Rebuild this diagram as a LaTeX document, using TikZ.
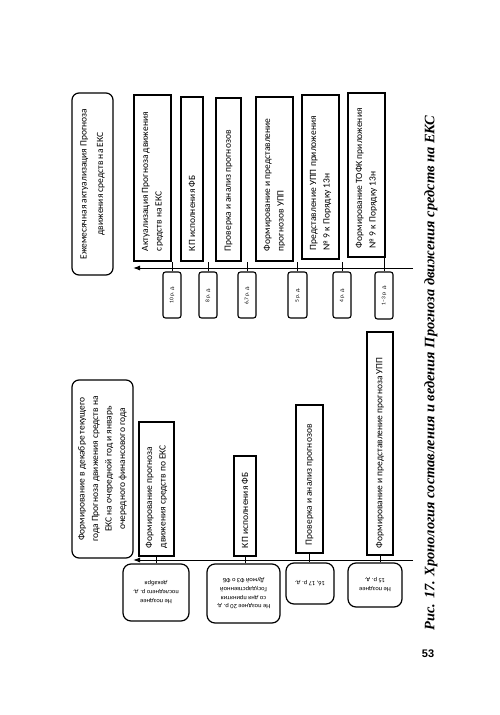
\documentclass[tikz,border=0pt]{standalone}
\usepackage{fontspec}
\usepackage{graphicx}
\setmainfont{Carlito}
\newfontfamily\capfont{Liberation Serif}
\newfontfamily\numfont{Liberation Sans}
\usetikzlibrary{arrows.meta}
\newcommand\mkbox[8][]{%
  \pgfmathsetmacro\bw{#5-#3}\pgfmathsetmacro\bh{#6-#4}\pgfmathsetmacro\tw{#6-#4-2*#7}%
  \node[#1, minimum width=\bw pt, minimum height=\bh pt] (#2) at ({(#3+#5)/2},{(#4+#6)/2})
    {\rotatebox{90}{\parbox{\tw pt}{\fontsize{9.5}{13.5}\selectfont\raggedright #8}}};}
\newcommand\mkround[7][]{%
  \pgfmathsetmacro\bw{#5-#3}\pgfmathsetmacro\bh{#6-#4}\pgfmathsetmacro\tw{#6-#4-12}%
  \node[#1, minimum width=\bw pt, minimum height=\bh pt] (#2) at ({(#3+#5)/2},{(#4+#6)/2})
    {\rotatebox{90}{\parbox{\tw pt}{\centering #7}}};}
\newcommand\mkdate[7][]{%
  \pgfmathsetmacro\bw{#5-#3}\pgfmathsetmacro\bh{#6-#4}%
  \node[#1, minimum width=\bw pt, minimum height=\bh pt] (#2) at ({(#3+#5)/2},{(#4+#6)/2}) {#7};}
\begin{document}
\begin{tikzpicture}[x=1pt,y=-1pt,
  rbox/.style={draw, line width=1.1pt, inner sep=1pt},
  bigbox/.style={draw, line width=1.2pt, rounded corners=7pt, inner sep=1pt},
  tdate/.style={draw, line width=1.1pt, rounded corners=2.5pt, inner sep=0pt},
  bdate/.style={draw, line width=1.2pt, rounded corners=8pt, inner sep=0pt},
  axis/.style={line width=1pt, -{Latex[length=7pt,width=5pt]}},
  tick/.style={line width=0.5pt}]
\useasboundingbox[fill=white] (0,0) rectangle (500,715);

% ---------- upper diagram ----------
\mkround[bigbox]{tb}{72}{93}{113}{275}{\fontsize{9.5}{16.5}\selectfont Ежемесячная актуализация Прогноза\\движения средств на ЕКС}
\mkbox[rbox]{a1}{134}{95}{171}{261}{10}{Актуализация Прогноза движения\\средств на ЕКС}
\mkbox[rbox]{a2}{181}{97}{203}{261}{10}{КП исполнения ФБ}
\mkbox[rbox]{a3}{216}{98}{241}{261}{10}{Проверка и анализ прогнозов}
\mkbox[rbox]{a4}{256}{97}{293}{261}{10}{Формирование и представление\\прогнозов УПП}
\mkbox[rbox]{a5}{302}{95}{339}{259}{9}{Представление УПП приложения\\№ 9 к Порядку 13н}
\mkbox[rbox]{a6}{348}{93}{385}{257}{9}{Формирование ТОФК приложения\\№ 9 к Порядку 13н}

\coordinate (t0) at (413,268);
\coordinate (t1) at (133,268);
\draw[axis] (t0) -- (t1);

\mkdate[tdate]{d1}{163}{272}{181}{318}{\rotatebox{90}{\fontsize{5.5}{6}\selectfont 10 р. д.}}
\mkdate[tdate]{d2}{199}{272}{217}{318}{\rotatebox{90}{\fontsize{5.5}{6}\selectfont 8 р. д.}}
\mkdate[tdate]{d3}{238}{272}{256}{318}{\rotatebox{90}{\fontsize{5.5}{6}\selectfont 6,7 р. д.}}
\mkdate[tdate]{d4}{288}{272}{307}{318}{\rotatebox{90}{\fontsize{5.5}{6}\selectfont 5 р. д.}}
\mkdate[tdate]{d5}{333}{272}{351}{318}{\rotatebox{90}{\fontsize{5.5}{6}\selectfont 4 р. д.}}
\mkdate[tdate]{d6}{375}{272}{393}{319}{\rotatebox{90}{\fontsize{5.5}{6}\selectfont 1–3 р. д.}}

\foreach \d/\a in {d1/a1,d2/a2,d3/a3,d4/a4,d5/a4,d6/a6}
  \draw[tick] (\d.north) -- (\d.north |- \a.south);

% ---------- lower diagram ----------
\mkround[bigbox]{bb}{72}{380}{133}{558}{\fontsize{9.5}{13.5}\selectfont Формирование в декабре текущего\\года Прогноза движения средств на\\ЕКС на очередной год и январь\\очередного финансового года}
\mkbox[rbox]{b1}{139}{422}{174}{556}{8}{Формирование прогноза\\движения средств по ЕКС}
\mkbox[rbox]{b2}{234}{456}{256}{556}{8}{КП исполнения ФБ}
\mkbox[rbox]{b3}{296}{405}{323}{553}{8}{Проверка и анализ прогнозов}
\mkbox[rbox]{b4}{367}{332}{393}{555}{7}{Формирование и представление прогноза УПП}

\coordinate (s0) at (413,560);
\coordinate (s1) at (133,560);
\draw[axis] (s0) -- (s1);

\mkdate[bdate]{e1}{123}{564}{189}{621}{\rotatebox{180}{\fontsize{6.5}{8.8}\selectfont\begin{tabular}{@{}c@{}}Не позднее\\последнего р. д.\\декабря\end{tabular}}}
\mkdate[bdate]{e2}{207}{564}{280}{623}{\rotatebox{180}{\fontsize{6.5}{8.8}\selectfont\begin{tabular}{@{}c@{}}Не позднее 20 р. д.\\со дня принятия\\Государственной\\Думой ФЗ о ФБ\end{tabular}}}
\mkdate[bdate]{e3}{286}{563}{334}{604}{\rotatebox{180}{\fontsize{6.5}{8.8}\selectfont 16, 17 р. д.}}
\mkdate[bdate]{e4}{348}{563}{402}{607}{\rotatebox{180}{\fontsize{6.5}{8.8}\selectfont\begin{tabular}{@{}c@{}}Не позднее\\15 р. д.\end{tabular}}}

\foreach \b/\e in {b1/e1,b2/e2,b3/e3,b4/e4}
  \draw[tick] (\b.south) -- (\b.south |- \e.north);

% ---------- caption ----------
\node[rotate=90, inner sep=0pt] (cap) at (431,373)
  {\resizebox{515pt}{!}{\capfont\bfseries\itshape Рис. 17. Хронология составления и ведения Прогноза движения средств на ЕКС}};
\node[inner sep=0pt] (pg) at (428,654) {\numfont\bfseries\fontsize{11}{12}\selectfont 53};
\end{tikzpicture}
\end{document}
